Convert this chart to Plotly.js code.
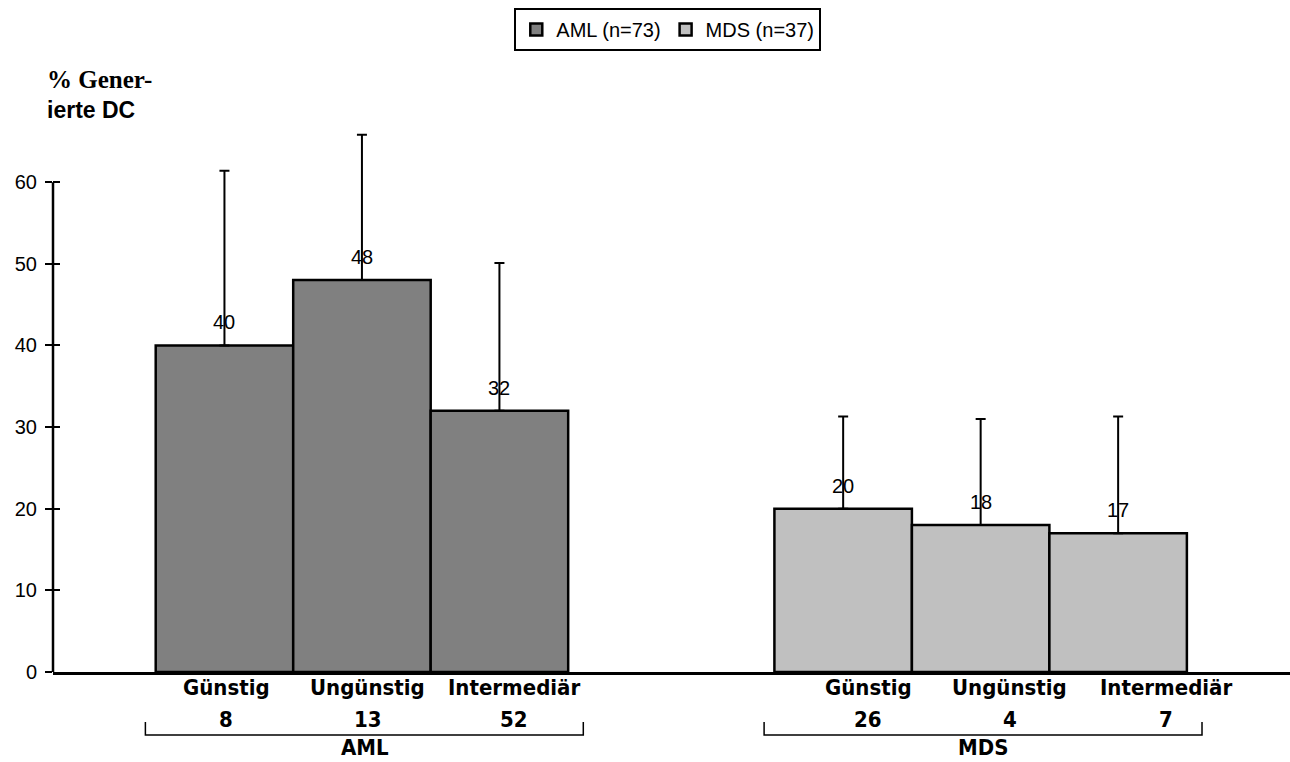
<!DOCTYPE html>
<html>
<head>
<meta charset="utf-8">
<script src="https://cdn.plot.ly/plotly-3.0.1.min.js"></script>
<style>html,body{margin:0;padding:0;background:#fff;}#chart{width:1290px;height:762px;}</style>
</head>
<body>
<div id="chart"></div>
<script>
// ---- data ----
const categories = ["Günstig", "Ungünstig", "Intermediär"];
const groups = ["AML", "MDS"];
const legendNames = ["AML (n=73)", "MDS (n=37)"];
const amlValues = [40, 48, 32];
const mdsValues = [20, 18, 17];
const amlErrTop = [61.4, 65.8, 50.1];
const mdsErrTop = [31.3, 31.0, 31.3];
const amlCounts = ["8", "13", "52"];
const mdsCounts = ["26", "4", "7"];
const yTicks = [0, 10, 20, 30, 40, 50, 60];

// ---- layout helpers (positions / styles) ----
const groupStart = [0, 4.5];
const labelShiftPx = [[2, 6, 15], [25, 29, 48]];
const ARIAL = "Arial, 'Liberation Sans', sans-serif";
const NARROW = "'Liberation Sans Narrow', 'Arial Narrow', 'DejaVu Sans Condensed', sans-serif";
const SERIF = "Times New Roman, Liberation Serif, serif";

const pos = g => categories.map((c, i) => groupStart[g] + i);
const valuesByGroup = [amlValues, mdsValues];
const errByGroup = [amlErrTop, mdsErrTop];
const countsByGroup = [amlCounts, mdsCounts];
const colors = ["#808080", "#C0C0C0"];

const traces = groups.map((g, gi) => ({
  type: "bar",
  name: legendNames[gi],
  x: pos(gi),
  y: valuesByGroup[gi],
  width: 1,
  yaxis: gi === 0 ? "y" : "y2",
  marker: {color: colors[gi], line: {color: "#000", width: 2.5}},
  error_y: {
    type: "data", symmetric: false,
    array: errByGroup[gi].map((t, i) => t - valuesByGroup[gi][i]),
    arrayminus: valuesByGroup[gi].map(() => 0),
    color: "#000", thickness: 2, width: 5
  },
  hoverinfo: "none"
}));

const annotations = [];
groups.forEach((g, gi) => {
  const xs = pos(gi);
  valuesByGroup[gi].forEach((v, i) => {
    annotations.push({x: xs[i], y: v, xref: "x", yref: "y", text: String(v), showarrow: false,
      yanchor: "bottom", yshift: 10, font: {family: ARIAL, size: 20, color: "#000"}});
    annotations.push({x: xs[i], y: 0, xref: "x", yref: "paper", text: "<b>" + categories[i] + "</b>", showarrow: false,
      yanchor: "top", yshift: -1, xshift: labelShiftPx[gi][i], font: {family: NARROW, size: 22, color: "#000"}});
    annotations.push({x: xs[i], y: 0, xref: "x", yref: "paper", text: "<b>" + countsByGroup[gi][i] + "</b>", showarrow: false,
      yanchor: "top", yshift: -33, xshift: labelShiftPx[gi][i], font: {family: NARROW, size: 22, color: "#000"}});
  });
  annotations.push({x: groupStart[gi] + 1.02, y: 0, xref: "x", yref: "paper", text: "<b>" + g + "</b>", showarrow: false,
    yanchor: "top", yshift: -61, font: {family: NARROW, size: 22, color: "#000"}});
});
annotations.push({
  x: 0, y: 1.1115, xref: "paper", yref: "paper", xanchor: "left", yanchor: "top", xshift: -8, align: "left",
  showarrow: false,
  text: "<b><span style='font-family:" + SERIF + ";font-size:25px'>% Gener-</span><br>ierte DC</b>",
  font: {family: ARIAL, size: 23, color: "#000"}
});

const shapes = [{type: "line", xref: "paper", yref: "y", x0: 0, x1: 0, y0: 0, y1: Math.max(...yTicks),
  line: {color: "#000", width: 2.5}, layer: "above"}];
groups.forEach((g, gi) => {
  const a = groupStart[gi] - 0.575, b = groupStart[gi] + 2.61;
  shapes.push({type: "path", xref: "x", yref: "paper",
    path: `M ${a} -0.0914 L ${a} -0.1152 L ${b} -0.1152 L ${b} -0.0914`,
    line: {color: "#000", width: 1.5}});
});

const layout = {
  width: 1290, height: 762,
  margin: {l: 53, r: 0, t: 125, b: 90},
  paper_bgcolor: "#fff", plot_bgcolor: "#fff",
  barmode: "overlay",
  showlegend: true,
  legend: {orientation: "h", x: 0.497, xanchor: "center", y: 1.2140, yanchor: "top",
    bordercolor: "#000", borderwidth: 2, font: {family: ARIAL, size: 20, color: "#000"},
    itemwidth: 30, tracegroupgap: 0},
  xaxis: {range: [-1.247, 7.75], showticklabels: false, ticks: "", showgrid: false, zeroline: false,
    showline: true, linecolor: "#000", linewidth: 2.5, fixedrange: true},
  yaxis: {range: [0, 67], tickvals: yTicks, ticks: "outside", ticklen: 7, tickwidth: 2, tickcolor: "#000",
    ticklabelstandoff: 4,
    showline: false, showgrid: false, zeroline: false, tickfont: {family: ARIAL, size: 20, color: "#000"}},
  yaxis2: {range: [0, 67], overlaying: "y", side: "left", tickvals: yTicks, ticks: "inside", ticklen: 7,
    tickwidth: 2, tickcolor: "#000", showticklabels: false, showline: false, showgrid: false, zeroline: false},
  annotations: annotations,
  shapes: shapes
};

Plotly.newPlot("chart", traces, layout, {displayModeBar: false, staticPlot: true});
</script>
</body>
</html>
